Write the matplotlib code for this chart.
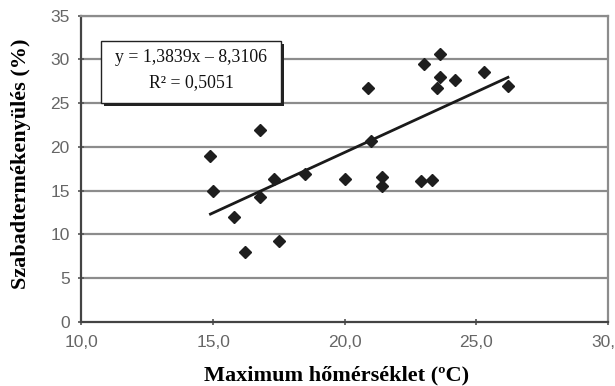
import matplotlib
matplotlib.use("Agg")
import matplotlib.pyplot as plt
import numpy as np
from matplotlib.patches import Rectangle

# Data
max_temp = [14.9, 15.0, 15.8, 16.2, 16.8, 16.8, 17.3, 17.5, 18.5, 20.0, 20.9, 21.0,
            21.4, 21.4, 22.9, 23.3, 23.0, 23.6, 23.6, 23.5, 24.2, 25.3, 26.2]
seed_set = [19.0, 15.0, 12.0, 8.0, 21.9, 14.3, 16.3, 9.2, 16.9, 16.3, 26.7, 20.7,
            16.6, 15.5, 16.1, 16.2, 29.5, 30.6, 28.0, 26.7, 27.6, 28.6, 27.0]
slope = 1.3839
intercept = -8.3106
eq_text = "y = 1,3839x – 8,3106"
r2_text = "R² = 0,5051"
x_ticks = [10, 15, 20, 25, 30]
x_tick_labels = ["10,0", "15,0", "20,0", "25,0", "30,0"]
y_ticks = [0, 5, 10, 15, 20, 25, 30, 35]

fig = plt.figure(figsize=(6.15, 3.86), dpi=100)
ax = fig.add_axes([0.1325, 0.1666, 0.9886 - 0.1325, 0.9593 - 0.1666])

ax.set_xlim(10, 30)
ax.set_ylim(0, 35)

# grid
for yv in y_ticks[1:]:
    ax.axhline(yv, color="#8c8c8c", lw=1.6, zorder=1)

# trend line
xs = np.array([min(max_temp), max(max_temp)])
ax.plot(xs, slope * xs + intercept, color="#1a1a1a", lw=2.0, zorder=3)

# points
ax.plot(max_temp, seed_set, linestyle="none", marker="D", markersize=6.3,
        color="#1e1e1e", zorder=4)

ax.set_xticks(x_ticks)
ax.set_xticklabels(x_tick_labels)
ax.set_yticks(y_ticks)

for lab in ax.get_xticklabels() + ax.get_yticklabels():
    lab.set_fontfamily("Liberation Sans")
    lab.set_fontsize(12.5)
    lab.set_color("#666666")

ax.tick_params(axis="both", direction="inout", length=5, width=1.2, color="#555555")
ax.tick_params(axis="x", pad=7)
ax.tick_params(axis="y", pad=6)

for side in ["left", "bottom"]:
    ax.spines[side].set_color("#444444")
    ax.spines[side].set_linewidth(1.6)
for side in ["top", "right"]:
    ax.spines[side].set_color("#8c8c8c")
    ax.spines[side].set_linewidth(1.6)

xl = ax.set_xlabel("Maximum hőmérséklet (ºC)", fontfamily="Liberation Serif",
                   fontweight="bold", fontsize=16)
yl = ax.set_ylabel("Szabadtermékenyülés (%)", fontfamily="Liberation Serif",
                   fontweight="bold", fontsize=16)
xl.set_va("center")
yl.set_va("center")
ax.xaxis.set_label_coords(0.484, -0.175)
ax.yaxis.set_label_coords(-0.114, 0.515)

# equation box with shadow (figure pixel coords converted to fractions)
W, H = 615.0, 386.0
bx0, by0, bx1, by1 = 101, 41, 281, 103
shadow = Rectangle(((bx0 + 3) / W, 1 - (by1 + 3) / H),
                   (bx1 - bx0) / W, (by1 - by0) / H, transform=fig.transFigure,
                   facecolor="#222222", edgecolor="none", zorder=5)
fig.patches.append(shadow)
box = Rectangle((bx0 / W, 1 - by1 / H), (bx1 - bx0) / W, (by1 - by0) / H,
                transform=fig.transFigure, facecolor="white", edgecolor="#222222",
                lw=1.0, zorder=6)
fig.patches.append(box)
cx = (bx0 + bx1) / 2 / W
fig.text(cx, 1 - 58 / H, eq_text, ha="center", va="center",
         fontfamily="Liberation Serif", fontsize=12.8, color="#111111", zorder=7)
fig.text(cx, 1 - 83 / H, r2_text, ha="center", va="center",
         fontfamily="Liberation Serif", fontsize=12.8, color="#111111", zorder=7)

fig.savefig("out.png", dpi=100)
